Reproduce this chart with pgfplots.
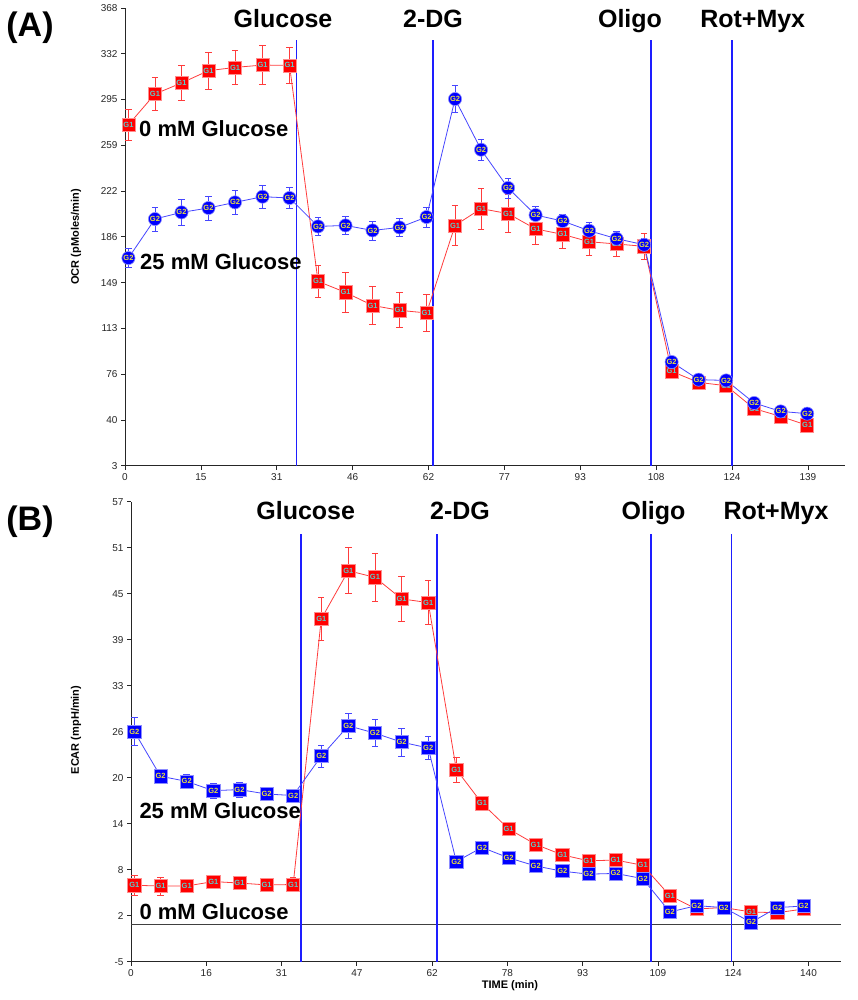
\documentclass[border=0pt]{standalone}
\usepackage{pgfplots}
\pgfplotsset{compat=1.18}
\usepackage{pgfplotstable}
\usepackage{fontspec}
\setmainfont{Liberation Sans}

\definecolor{rA}{RGB}{255,0,0}
\definecolor{rL}{RGB}{255,60,60}
\definecolor{bA}{RGB}{0,0,255}
\definecolor{bV}{RGB}{30,30,255}
\definecolor{bL}{RGB}{70,70,255}
\definecolor{gOne}{RGB}{90,205,205}
\definecolor{gTwo}{RGB}{235,225,60}

\tikzset{vline/.style={bV, line width=1.4pt}}

% time  value  error
\pgfplotstableread{
t v e
0.7 274.9 12.2
6.1 299.4 13.3
11.5 308.2 13.8
17.0 318.0 14.6
22.4 320.6 13.7
28.0 322.5 15.3
33.5 322.2 14.6
39.3 150.0 13
44.9 141.2 16
50.4 130.8 15.3
55.9 126.9 14
61.4 124.8 15
67.2 194.6 15.6
72.5 208.0 16.2
78.0 204.0 15
83.6 191.8 12.4
89.1 187.5 11.6
94.5 181.6 11
100.1 179.8 10.2
105.7 177.9 10
111.3 78.2 3
116.8 69.4 2.5
122.4 66.8 2.5
128.1 48.5 2.5
133.5 42.3 2.5
138.9 35.2 2.5
}\ocrRed

\pgfplotstableread{
t v e
0.7 168.6 7.6
6.1 199.7 9.6
11.5 205.0 10.2
17.0 208.5 9.6
22.4 213.0 9.3
28.0 217.5 9.0
33.5 216.5 8.5
39.3 193.8 7.2
44.9 194.6 7.2
50.4 190.6 7.6
55.9 193.0 7.3
61.4 201.3 8.0
67.2 295.4 10.5
72.5 255.0 8.4
78.0 224.5 8.0
83.6 202.9 6.9
89.1 198.1 5.3
94.5 190.4 7.0
100.1 184.0 6.0
105.7 179.2 5.3
111.3 85.7 3
116.8 71.6 2.5
122.4 71.0 2.5
128.1 53.0 2.5
133.5 46.3 2.5
138.9 44.5 2.5
}\ocrBlue

\pgfplotstableread{
t v e
0.7 5.3 1.35
6.1 5.2 1.2
11.5 5.2 0.8
17.0 5.8 0.6
22.4 5.6 0.5
28.0 5.35 0.9
33.5 5.4 0.9
39.3 41.2 2.9
44.9 47.7 3.1
50.4 46.8 3.2
55.9 43.9 3.0
61.4 43.4 3.0
67.2 20.9 1.7
72.5 16.35 0.6
78.0 12.9 0.4
83.6 10.8 0.4
89.1 9.4 0.4
94.5 8.6 0.4
100.1 8.7 0.4
105.7 8.0 0.4
111.3 3.9 0.3
116.8 2.1 0.3
122.4 2.3 0.3
128.1 1.7 0.3
133.5 1.6 0.3
138.9 2.1 0.3
}\ecarRed

\pgfplotstableread{
t v e
0.7 26.0 1.9
6.1 20.0 0.9
11.5 19.3 1.0
17.0 18.05 1.0
22.4 18.2 1.0
28.0 17.6 0.9
33.5 17.4 0.8
39.3 22.7 1.5
44.9 26.8 1.7
50.4 25.8 1.8
55.9 24.6 1.9
61.4 23.8 1.6
67.2 8.5 0.4
72.5 10.4 0.4
78.0 9.0 0.4
83.6 7.9 0.4
89.1 7.2 0.4
94.5 6.8 0.4
100.1 6.9 0.4
105.7 6.2 0.4
111.3 1.7 0.3
116.8 2.55 0.3
122.4 2.3 0.3
128.1 0.3 0.3
133.5 2.3 0.3
138.9 2.5 0.3
}\ecarBlue

\pgfplotsset{
  panel/.style={
    scale only axis, anchor=south west, clip=false,
    axis x line*=bottom, axis y line*=left,
    tick align=outside, major tick length=4pt,
    axis line style={black!85, line width=0.7pt},
    tick style={black!85, line width=0.7pt},
    ticklabel style={font=\fontsize{10}{12}\selectfont, text=black!85},
    /pgf/number format/assume math mode=true,
  },
  redser/.style={color=rL, line width=0.8pt, mark size=6.6pt,
    mark options={fill=rA, draw=rA!45, line width=0.6pt},
    nodes near coords={G1},
    every node near coord/.style={anchor=center, inner sep=0pt, font=\fontsize{7.5}{8}\selectfont\bfseries, text=gOne},
    error bars/y dir=both, error bars/y explicit,
    error bars/error bar style={rL, line width=0.8pt},
    error bars/error mark options={rotate=90, rL, mark size=3.2pt, line width=0.8pt}},
  blueser/.style={color=bL, line width=0.8pt, mark size=6.6pt,
    mark options={fill=bA, draw=bA!45, line width=0.6pt},
    nodes near coords={G2},
    every node near coord/.style={anchor=center, inner sep=0pt, font=\fontsize{7.5}{8}\selectfont\bfseries, text=gTwo},
    error bars/y dir=both, error bars/y explicit,
    error bars/error bar style={bL, line width=0.8pt},
    error bars/error mark options={rotate=90, bL, mark size=3.2pt, line width=0.8pt}},
}

\begin{document}
\begin{tikzpicture}[x=1pt,y=1pt]
\useasboundingbox (0,0) rectangle (857,1000);

% ---------------- Panel A ----------------
\begin{axis}[panel, at={(125pt,534.3pt)}, width=720pt, height=457.7pt,
  xmin=0, xmax=146.6, ymin=3, ymax=368,
  xtick={0,15.45,30.9,46.35,61.8,77.25,92.7,108.15,123.6,139.05},
  xticklabels={0,15,31,46,62,77,93,108,124,139},
  ytick={3,39.5,76,112.5,149,185.5,222,258.5,295,331.5,368},
  yticklabels={3,40,76,113,149,186,222,259,295,332,368}]
\draw[vline] (axis cs:34.9,3) -- (axis cs:34.9,342.2);
\draw[vline] (axis cs:62.7,3) -- (axis cs:62.7,342.2);
\draw[vline] (axis cs:107.1,3) -- (axis cs:107.1,342.2);
\draw[vline] (axis cs:123.6,3) -- (axis cs:123.6,342.2);
\addplot[redser, mark=square*] table[x=t, y=v, y error=e] {\ocrRed};
\addplot[blueser, mark=*] table[x=t, y=v, y error=e] {\ocrBlue};
\end{axis}

% ---------------- Panel B ----------------
\begin{axis}[panel, at={(131pt,38.3pt)}, width=709.7pt, height=460pt,
  xmin=0, xmax=146.6, ymin=-5, ymax=57,
  xtick={0,15.55,31.1,46.65,62.2,77.75,93.3,108.85,124.4,139.95},
  xticklabels={0,16,31,47,62,78,93,109,124,140},
  ytick={-5,1.2,7.4,13.6,19.8,26,32.2,38.4,44.6,50.8,57},
  yticklabels={-5,2,8,14,20,26,33,39,45,51,57}]
\draw[black!75, line width=0.8pt] (axis cs:0,0) -- (axis cs:146.6,0);
\draw[vline] (axis cs:35.1,-5) -- (axis cs:35.1,52.7);
\draw[vline] (axis cs:63.2,-5) -- (axis cs:63.2,52.7);
\draw[vline] (axis cs:107.4,-5) -- (axis cs:107.4,52.7);
\draw[vline] (axis cs:124.1,-5) -- (axis cs:124.1,52.7);
\addplot[redser, mark=square*] table[x=t, y=v, y error=e] {\ecarRed};
\addplot[blueser, mark=square*] table[x=t, y=v, y error=e] {\ecarBlue};
\end{axis}

% ---------------- Text ----------------
\begin{scope}[every node/.style={inner sep=0pt}]
\node[anchor=base, font=\fontsize{34}{40}\selectfont\bfseries] at (30,963.5) {(A)};
\node[anchor=base, font=\fontsize{34}{40}\selectfont\bfseries] at (30,469.5) {(B)};

\node[anchor=base, font=\fontsize{25}{30}\selectfont\bfseries] at (283,972.5) {Glucose};
\node[anchor=base, font=\fontsize{25}{30}\selectfont\bfseries] at (433,972.5) {2-DG};
\node[anchor=base, font=\fontsize{25}{30}\selectfont\bfseries] at (630,972.5) {Oligo};
\node[anchor=base, font=\fontsize{25}{30}\selectfont\bfseries] at (752.7,972.5) {Rot+Myx};

\node[anchor=base, font=\fontsize{25}{30}\selectfont\bfseries] at (305.7,480) {Glucose};
\node[anchor=base, font=\fontsize{25}{30}\selectfont\bfseries] at (460,480) {2-DG};
\node[anchor=base, font=\fontsize{25}{30}\selectfont\bfseries] at (653.5,480) {Oligo};
\node[anchor=base, font=\fontsize{25}{30}\selectfont\bfseries] at (776,480) {Rot+Myx};

\node[anchor=base west, font=\fontsize{22}{26}\selectfont\bfseries] at (139,863.3) {0 mM Glucose};
\node[anchor=base west, font=\fontsize{22}{26}\selectfont\bfseries] at (140,730) {25 mM Glucose};
\node[anchor=base west, font=\fontsize{22}{26}\selectfont\bfseries] at (139.3,181.7) {25 mM Glucose};
\node[anchor=base west, font=\fontsize{22}{26}\selectfont\bfseries] at (139.3,80.7) {0 mM Glucose};

\node[rotate=90, font=\fontsize{11}{13}\selectfont\bfseries] at (76,763) {OCR (pMoles/min)};
\node[rotate=90, font=\fontsize{11}{13}\selectfont\bfseries] at (76,270) {ECAR (mpH/min)};
\node[anchor=base, font=\fontsize{11}{13}\selectfont\bfseries] at (510,11.3) {TIME (min)};
\end{scope}
\end{tikzpicture}
\end{document}
